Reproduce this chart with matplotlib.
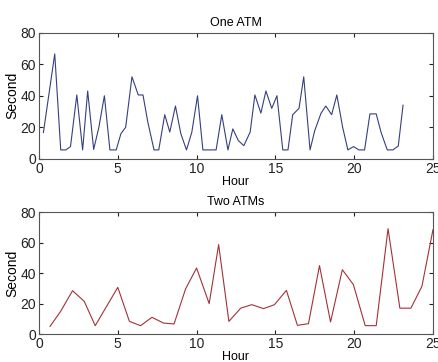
import numpy as np
import matplotlib.pyplot as plt

plt.rcParams['font.family'] = ['Liberation Sans', 'DejaVu Sans']

# one ATM: waiting time (seconds) against hour
one_hour = [0.28, 1.0, 1.38, 1.7, 2.0, 2.4, 2.77, 3.09, 3.47, 3.8, 4.15, 4.5, 4.9,
            5.2, 5.5, 5.9, 6.3, 6.6, 6.9, 7.3, 7.6, 7.98, 8.3, 8.66, 9.0, 9.36, 9.7,
            10.06, 10.4, 10.77, 11.24, 11.6, 11.99, 12.3, 12.65, 13.0, 13.4, 13.7,
            14.08, 14.4, 14.77, 15.1, 15.47, 15.8, 16.1, 16.5, 16.8, 17.2, 17.5,
            17.9, 18.2, 18.57, 18.9, 19.27, 19.6, 19.96, 20.3, 20.66, 21.0, 21.4,
            21.7, 22.1, 22.46, 22.8, 23.1]
one_sec = [16.7, 66.5, 5.7, 5.7, 7.8, 40.5, 5.7, 43, 6, 20, 40, 5.7, 5.7,
           16, 20, 52, 40.5, 40.5, 23.6, 5.7, 5.7, 28, 17, 33.5, 16, 5.7, 17,
           40, 5.7, 5.7, 5.7, 28, 5.7, 19, 11.6, 8.4, 17, 40.5,
           29, 43, 32, 40, 5.7, 5.7, 28, 32, 52, 5.7, 18,
           29, 33.5, 28, 40.5, 20, 5.7, 7.8, 5.7, 5.7, 28.5, 28.5,
           17, 5.7, 5.7, 8.2, 34]

# two ATMs
two_hour = [0.7, 1.38, 2.13, 2.87, 3.57, 5.0, 5.74, 6.45, 7.17, 7.9, 8.57, 9.3,
            10.0, 10.8, 11.4, 12.05, 12.8, 13.5, 14.25, 14.94, 15.7, 16.4, 17.1,
            17.8, 18.5, 19.25, 19.95, 20.7, 21.4, 22.15, 22.9, 23.6, 24.3, 25.0]
two_sec = [5, 15, 28.5, 21.5, 5.5, 30.7, 8.3, 5.5, 11, 7.2, 6.6, 29.6,
           43.4, 20, 58.8, 8.3, 17, 19.3, 16.7, 19.3, 28.7, 5.7, 6.8,
           45, 7.9, 42.3, 32.5, 5.5, 5.5, 69.3, 17, 17, 31.4, 68.6]

fig = plt.figure(figsize=(4.38, 3.62), dpi=100)
ax1 = fig.add_axes([0.089, 0.561, 0.8995, 0.349])
ax2 = fig.add_axes([0.089, 0.0773, 0.8995, 0.336])

ax1.plot(one_hour, one_sec, color='#34407f', lw=0.8)
ax2.plot(two_hour, two_sec, color='#a33238', lw=0.8)

for ax, title in [(ax1, 'One ATM'), (ax2, 'Two ATMs')]:
    ax.set_xlim(0, 25)
    ax.set_ylim(0, 80)
    ax.set_xticks([0, 5, 10, 15, 20, 25])
    ax.set_yticks([0, 20, 40, 60, 80])
    ax.tick_params(direction='in', top=True, right=True, length=3,
                   labelsize=10, colors='#222222', pad=2)
    for s in ax.spines.values():
        s.set_color('#555555')
        s.set_linewidth(0.8)
    ax.set_title(title, fontsize=9, pad=5)
    ax.set_xlabel('Hour', fontsize=9, labelpad=0)
    ax.set_ylabel('Second', fontsize=10, labelpad=1)

fig.savefig('out.png', dpi=100)
